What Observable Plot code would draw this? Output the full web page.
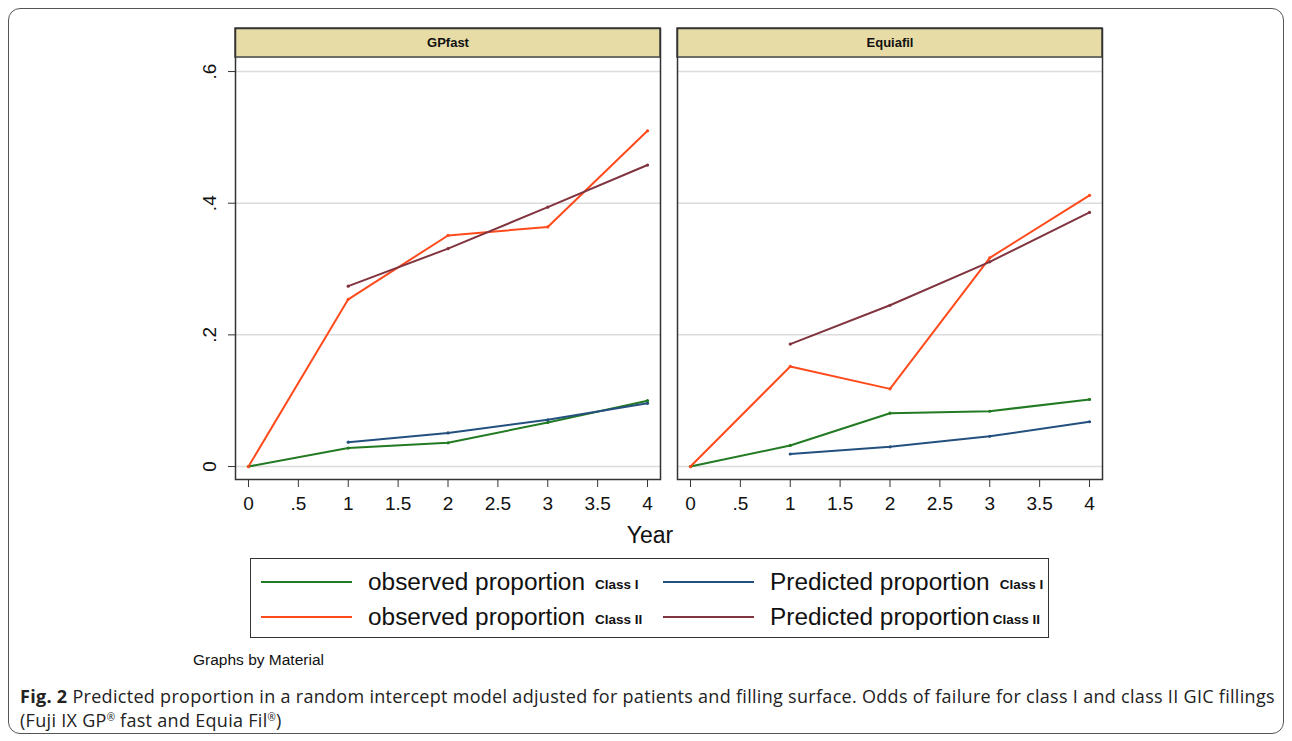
<!DOCTYPE html>
<html>
<head>
<meta charset="utf-8">
<script src="https://cdn.jsdelivr.net/npm/d3@7"></script>
<script src="https://cdn.jsdelivr.net/npm/@observablehq/plot@0.6"></script>
<style>
  html, body { margin: 0; padding: 0; background: #fff; }
  #wrap { position: relative; width: 1292px; height: 741px; overflow: hidden; font-family: "Liberation Sans", Arial, sans-serif; }
  #border { position: absolute; left: 8px; top: 8px; width: 1276px; height: 726px; border: 1.5px solid #555; border-radius: 12px; box-sizing: border-box; }
  #chart { position: absolute; left: 0; top: 0; }
  #year { position: absolute; left: 600px; width: 100px; text-align: center; top: 522px; font-size: 23px; color: #111; }
  #legend { position: absolute; left: 250px; top: 558px; width: 799px; height: 80px; border: 1.2px solid #333; box-sizing: border-box; }
  .entry { position: absolute; display: flex; align-items: center; height: 30px; }
  .swatch { width: 91px; height: 2.5px; margin-right: 16px; }
  .lab { font-size: 24.4px; color: #111; white-space: nowrap; }
  .sub { font-size: 13.5px; font-weight: bold; margin-left: 10px; vertical-align: 1px; }
  #graphs { position: absolute; left: 193px; top: 651px; font-size: 15.5px; color: #111; }
  #caption { position: absolute; left: 20px; top: 684px; width: 1262px; font-family: "Open Sans", sans-serif; font-size: 18px; line-height: 24px; color: #222; letter-spacing: 0.3px; }
  #caption sup { font-size: 10px; line-height: 0; vertical-align: 6px; letter-spacing: 0; }
</style>
</head>
<body>
<div id="wrap">
  <div id="border"></div>
  <div id="chart"></div>
  <div id="year">Year</div>
  <div id="legend"></div>
  <div id="graphs">Graphs by Material</div>
  <div id="caption"><b>Fig. 2</b> Predicted proportion in a random intercept model adjusted for patients and filling surface. Odds of failure for class I and class II GIC fillings<br>(Fuji IX GP<sup>®</sup> fast and Equia Fil<sup>®</sup>)</div>
</div>
<script>
// ---- data ----
const materials = ["GPfast", "Equiafil"];
const years = [0, 1, 2, 3, 4];
const seriesNames = ["observed proportion Class I", "Predicted proportion Class I", "observed proportion Class II", "Predicted proportion Class II"];
const seriesColors = ["#227a22", "#24507f", "#ff4b1c", "#80343f"];

const gpObsI   = [0, 0.028, 0.036, 0.067, 0.100];
const gpPredI  = [null, 0.037, 0.051, 0.071, 0.096];
const gpObsII  = [0, 0.254, 0.351, 0.364, 0.510];
const gpPredII = [null, 0.274, 0.331, 0.394, 0.458];

const eqObsI   = [0, 0.032, 0.081, 0.084, 0.102];
const eqPredI  = [null, 0.019, 0.030, 0.046, 0.068];
const eqObsII  = [0, 0.152, 0.118, 0.317, 0.412];
const eqPredII = [null, 0.186, 0.245, 0.311, 0.386];

const yTicks = [0, 0.2, 0.4, 0.6];
const xTicks = [0, 0.5, 1, 1.5, 2, 2.5, 3, 3.5, 4];

// ---- build table ----
const bySeries = {
  GPfast: [gpObsI, gpPredI, gpObsII, gpPredII],
  Equiafil: [eqObsI, eqPredI, eqObsII, eqPredII]
};
const rows = [];
for (const m of materials) {
  bySeries[m].forEach((vals, si) => {
    vals.forEach((v, i) => {
      if (v != null) rows.push({material: m, series: seriesNames[si], year: years[i], value: v});
    });
  });
}
const headers = materials.map(m => ({material: m}));

const fmt = d => d === 0 ? "0" : String(d).replace(/^0/, "");

const xDom = [-0.13, 4.13];
const yDom = [-0.0197, 0.6654];
const headerLow = 0.6213;

const plot = Plot.plot({
  width: 1292,
  height: 545,
  marginLeft: 235,
  marginRight: 190,
  marginTop: 28,
  marginBottom: 66,
  style: {fontFamily: "'Liberation Sans', Arial, sans-serif", color: "#111", background: "transparent"},
  fx: {domain: materials, padding: 0.0385, axis: null},
  x: {domain: xDom},
  y: {domain: yDom},
  color: {domain: seriesNames, range: seriesColors},
  marks: [
    Plot.ruleY(yTicks, {stroke: "#dcdcdc", strokeWidth: 1.5}),
    Plot.rect(headers, {fx: "material", x1: xDom[0], x2: xDom[1], y1: headerLow, y2: yDom[1], fill: "#e7dca6", stroke: "#444", strokeWidth: 1.5}),
    Plot.text(headers, {fx: "material", x: 2, y: (headerLow + yDom[1]) / 2, text: "material", fontSize: 13, fontWeight: "bold", fill: "#111"}),
    Plot.frame({stroke: "#333", strokeWidth: 1.5}),
    Plot.line(rows, {fx: "material", x: "year", y: "value", z: "series", stroke: "series", strokeWidth: 2}),
    Plot.dot(rows, {fx: "material", x: "year", y: "value", fill: "series", r: 1.6}),
    Plot.axisY({ticks: yTicks, tickFormat: fmt, tickSize: 7, tickPadding: 13, tickRotate: -90, fontSize: 19, textAnchor: "middle", stroke: "#333", label: null}),
    Plot.axisX({ticks: xTicks, tickFormat: fmt, tickSize: 8, tickPadding: 9, fontSize: 19, stroke: "#333", label: null})
  ]
});
document.getElementById("chart").appendChild(plot);

// ---- legend ----
const legend = document.getElementById("legend");
const pos = [[10, 8], [412, 8], [10, 43], [412, 43]];
const mainText = ["observed proportion", "Predicted proportion", "observed proportion", "Predicted proportion"];
const subText = ["Class I", "Class I", "Class II", "Class II"];
const subGap = [10, 10, 10, 3];
[0, 1, 2, 3].forEach((si, k) => {
  const e = document.createElement("div");
  e.className = "entry";
  e.style.left = pos[k][0] + "px";
  e.style.top = pos[k][1] + "px";
  e.innerHTML = `<div class="swatch" style="background:${seriesColors[si]}"></div><span class="lab">${mainText[si]}<span class="sub" style="margin-left:${subGap[k]}px">${subText[si]}</span></span>`;
  legend.appendChild(e);
});
</script>
</body>
</html>
